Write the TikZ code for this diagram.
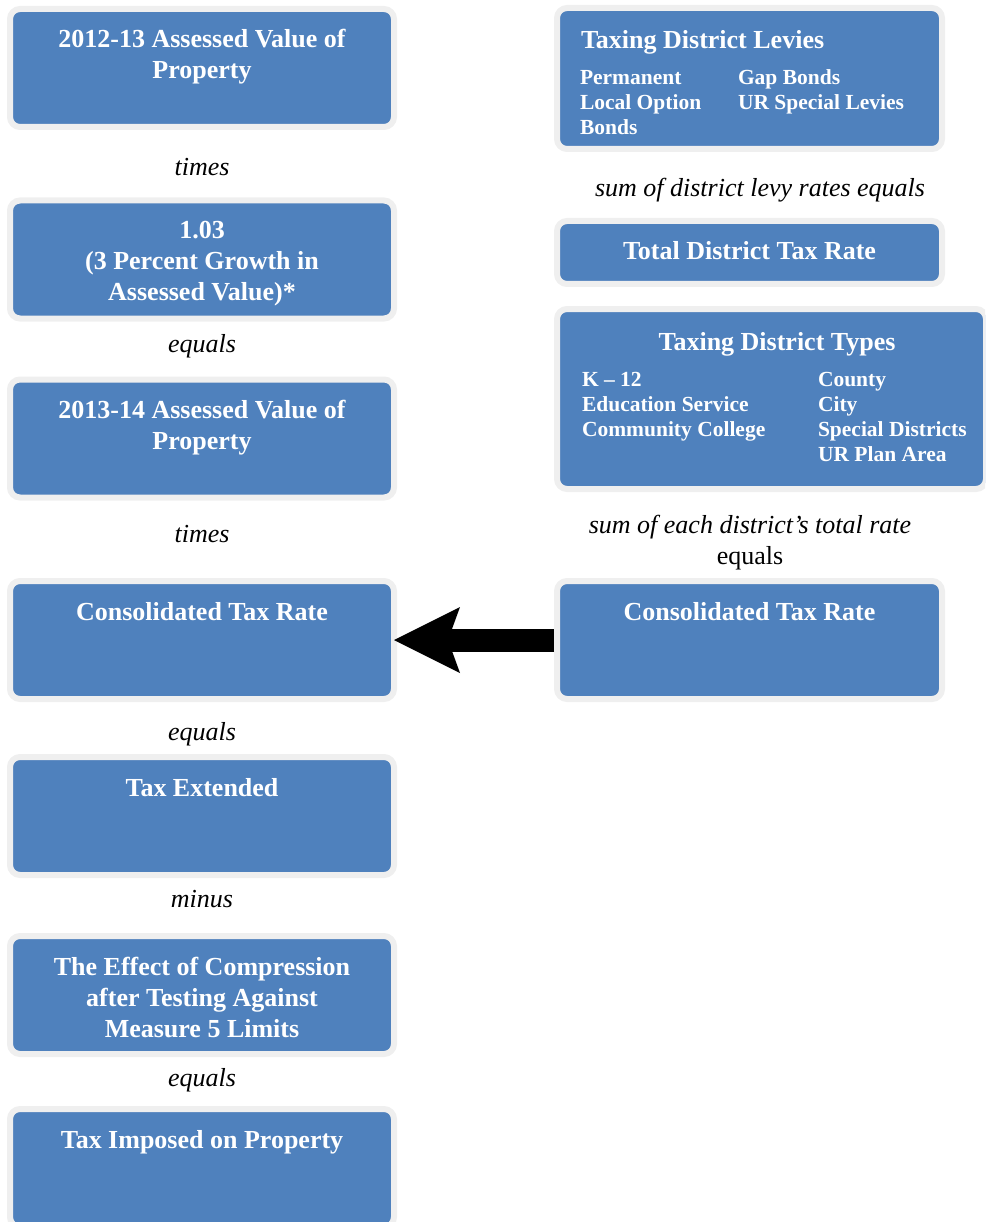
\documentclass[tikz,border=0pt]{standalone}
\usepackage{fontspec}
\setmainfont{Liberation Serif}
\usetikzlibrary{arrows.meta, positioning}
\definecolor{boxblue}{RGB}{79,129,189}
\definecolor{boxrim}{RGB}{239,239,239}

\tikzset{
  blk/.style={rectangle, rounded corners=10pt, fill=boxblue, draw=boxrim, line width=6pt, inner sep=0pt, minimum width=384pt, minimum height=118pt},
  ttl/.style={font=\fontsize{26}{31}\selectfont\bfseries, text=white, align=center, inner sep=0pt, outer sep=0pt, execute at begin node=\strut},
  sub/.style={font=\fontsize{21.5}{25}\selectfont\bfseries, text=white, align=left, inner sep=0pt, outer sep=0pt, execute at begin node=\strut},
  op/.style={font=\fontsize{26}{31}\selectfont\itshape, inner sep=0pt}
}

\begin{document}
\begin{tikzpicture}[x=1pt, y=-1pt, >=Stealth]
    \clip (0,0) rectangle (985,1222);

    % Left column: the calculation for one property
    \node[blk] (av12) at (202,68) {};
    \node[ttl, below=23.5pt of av12.north] (av12t) {2012-13 Assessed Value of\\Property};
    \node[blk] (grow) at (202,259.5) {};
    \node[ttl, below=23.5pt of grow.north] (growt) {1.03\\(3 Percent Growth in\\Assessed Value)*};
    \node[blk] (av13) at (202,438.5) {};
    \node[ttl, below=23.5pt of av13.north] (av13t) {2013-14 Assessed Value of\\Property};
    \node[blk] (ctrL) at (202,640) {};
    \node[ttl, below=20.5pt of ctrL.north] (ctrLt) {Consolidated Tax Rate};
    \node[blk] (ext) at (202,816) {};
    \node[ttl, below=20.5pt of ext.north] (extt) {Tax Extended};
    \node[blk] (comp) at (202,995) {};
    \node[ttl, below=24pt of comp.north] (compt) {The Effect of Compression\\after Testing Against\\Measure 5 Limits};
    \node[blk] (imp) at (202,1168) {};
    \node[ttl, below=20.5pt of imp.north] (impt) {Tax Imposed on Property};

    % Right column: building the consolidated rate
    \node[blk, minimum width=385pt, minimum height=141pt] (lev) at (749.5,78.5) {};
    \node[ttl, below right=22pt and 27pt of lev.north west] (levt) {Taxing District Levies};
    \node[sub, below right=65pt and 26pt of lev.north west] (levA) {Permanent\\Local Option\\Bonds};
    \node[sub, below right=65pt and 184pt of lev.north west] (levB) {Gap Bonds\\UR Special Levies};
    \node[blk, minimum width=385pt, minimum height=63pt] (tdr) at (749.5,252.5) {};
    \node[ttl, below=20pt of tdr.north] (tdrt) {Total District Tax Rate};
    \node[blk, minimum width=429pt, minimum height=180pt] (typ) at (771.5,399) {};
    \node[ttl, below=23pt of typ.north, xshift=5.5pt] (typt) {Taxing District Types};
    \node[sub, below right=66pt and 28pt of typ.north west] (typA) {K – 12\\Education Service\\Community College};
    \node[sub, below right=66pt and 264pt of typ.north west] (typB) {County\\City\\Special Districts\\UR Plan Area};
    \node[blk, minimum width=385pt] (ctrR) at (749.5,640) {};
    \node[ttl, below=21pt of ctrR.north] (ctrRt) {Consolidated Tax Rate};

    % Operators
    \node[op] (x1) at (202,167) {times};
    \node[op] (e1) at (202,346) {equals};
    \node[op] (x2) at (202,534) {times};
    \node[op] (e2) at (202,734) {equals};
    \node[op] (m1) at (202,899) {minus};
    \node[op] (e3) at (202,1080) {equals};
    \node[op] (sl) at (760,190) {sum of district levy rates equals};
    \node[op, align=center] (sr) at (750,543) {sum of each district’s total rate\\\upshape equals};

    % Arrow
    \draw[line width=23pt, -{Stealth[length=66pt, width=66pt, inset=12pt, line width=0pt]}, shorten >=-3pt] (ctrR.west) -- (ctrL.east);
\end{tikzpicture}
\end{document}
